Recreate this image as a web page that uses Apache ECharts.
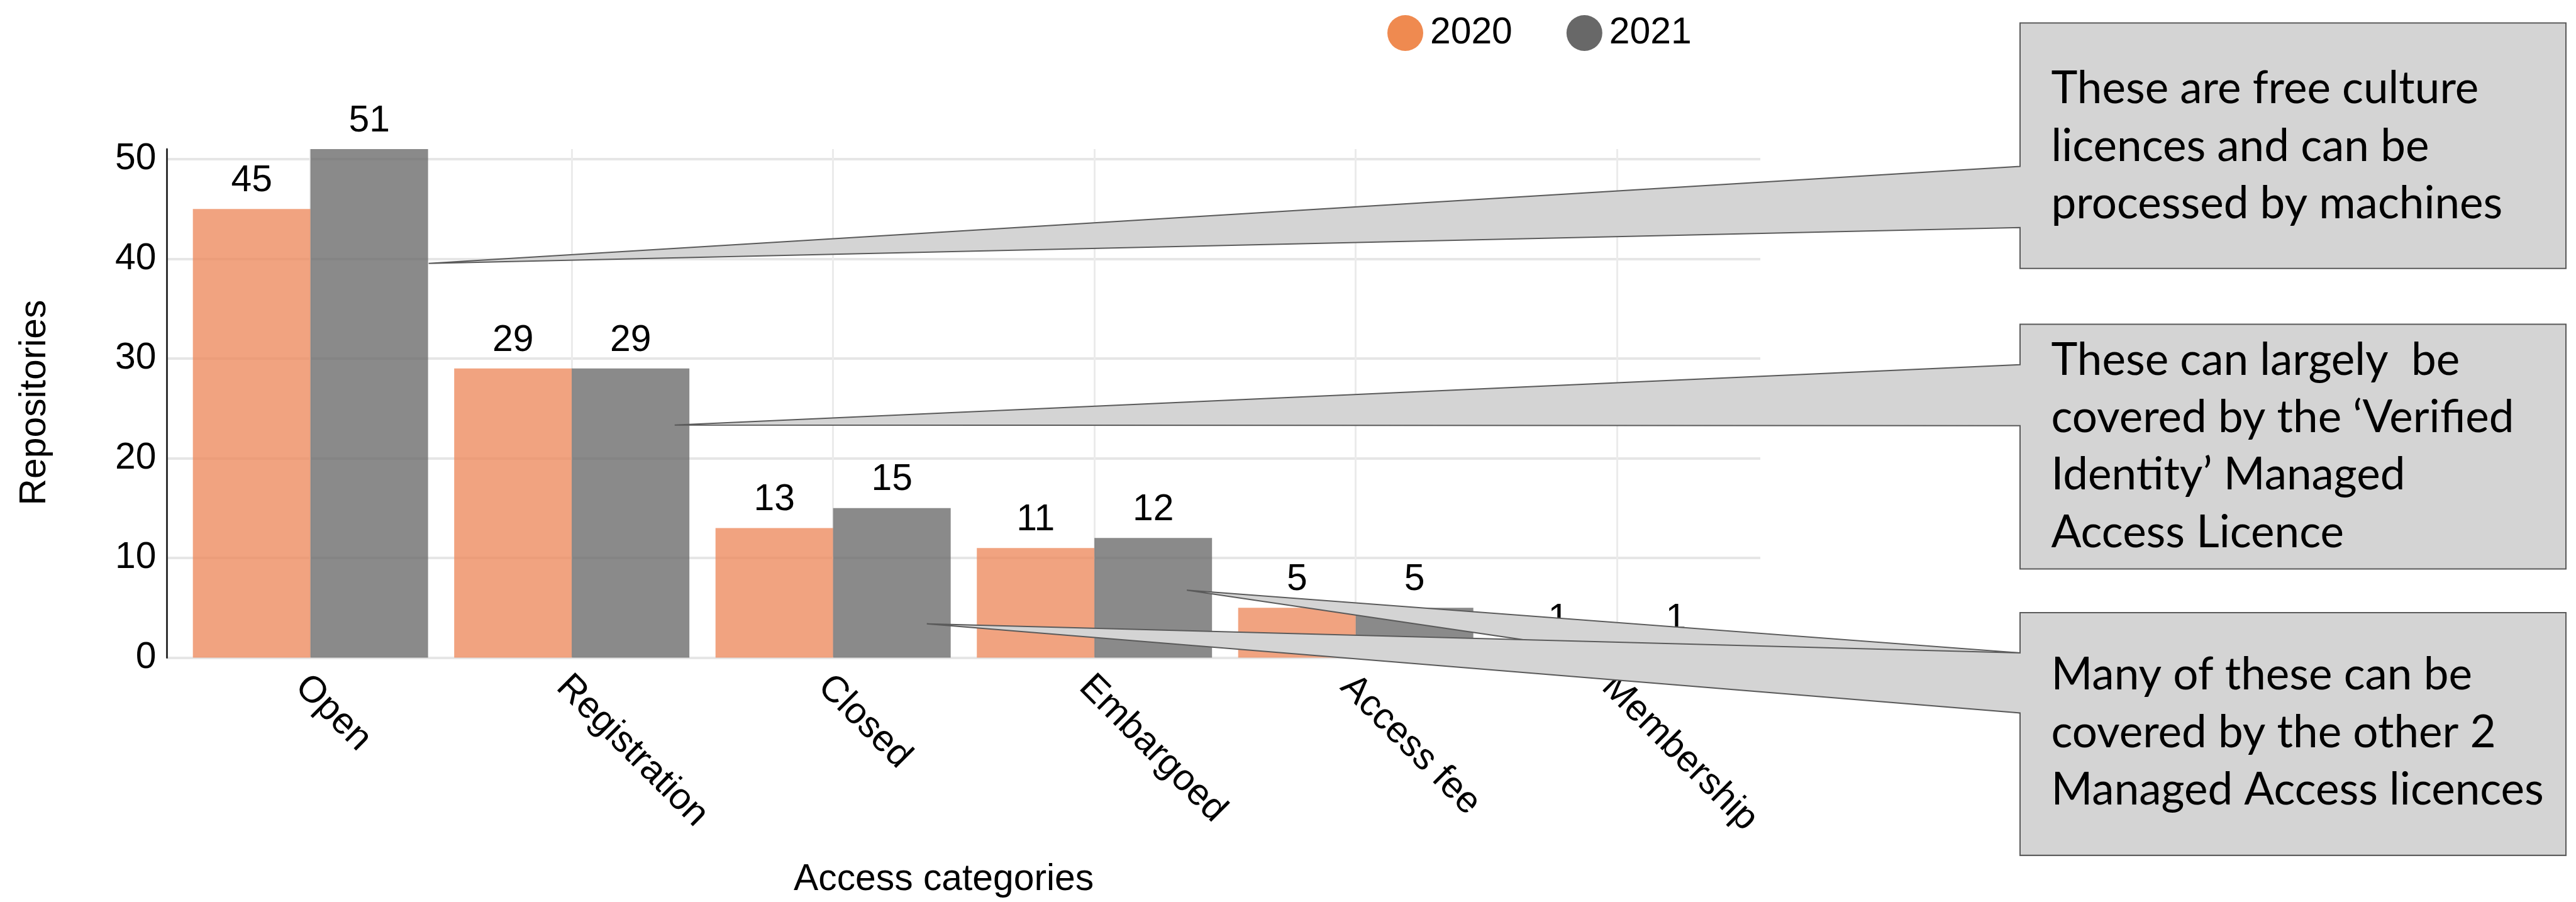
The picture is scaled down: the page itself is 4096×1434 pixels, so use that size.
<!DOCTYPE html>
<html>
<head>
<meta charset="utf-8">
<script src="https://cdn.jsdelivr.net/npm/echarts@6/dist/echarts.min.js"></script>
<style>
html,body{margin:0;padding:0;background:#fff;}
#chart{width:4096px;height:1434px;}
</style>
</head>
<body>
<div id="chart"></div>
<script>
// ---- data ----
const categories = ['Open', 'Registration', 'Closed', 'Embargoed', 'Access fee', 'Membership'];
const values2020 = [45, 29, 13, 11, 5, 1];
const values2021 = [51, 29, 15, 12, 5, 1];
const seriesNames = ['2020', '2021'];
const yMin = 0;
const yMax = 51;
const yInterval = 10;
const xAxisTitle = 'Access categories';
const yAxisTitle = 'Repositories';
const note1 = ['These are free culture', 'licences and can be', 'processed by machines'];
const note2 = ['These can largely  be', 'covered by the \u2018Verified', 'Identity\u2019 Managed', 'Access Licence'];
const note3 = ['Many of these can be', 'covered by the other 2', 'Managed Access licences'];

// ---- styling ----
const FONT = '"Liberation Sans", Arial, Helvetica, sans-serif';
const FS = 58.8;
const NOTE_FONT = 'Lato, "Open Sans", sans-serif';
const GRID_TOP = 237;
const GRID_H = 808.6;

const calloutStyle = { fill: '#d4d4d4', stroke: '#5a5a5a', lineWidth: 2 };
function callout(box, base, tip, z) {
  const [x0, y0, x1, y1] = box;
  return {
    type: 'polygon', z: z, silent: true,
    shape: { points: [[x0, y0], [x1, y0], [x1, y1], [x0, y1], [x0, base[1]], tip, [x0, base[0]]] },
    style: calloutStyle
  };
}
function noteText(lines, x, y) {
  return {
    type: 'text', z: 120, silent: true, x: x, y: y,
    style: {
      text: lines.join('\n'), fontSize: 71, fontFamily: NOTE_FONT, fill: '#000',
      lineHeight: 91.3, align: 'left', textAlign: 'left', verticalAlign: 'top', textVerticalAlign: 'top'
    }
  };
}

const chart = echarts.init(document.getElementById('chart'), null, { renderer: 'canvas' });
const option = {
  animation: false,
  backgroundColor: '#ffffff',
  textStyle: { fontFamily: FONT },
  legend: {
    left: 2201, top: 18, orient: 'horizontal', icon: 'circle',
    itemWidth: 57, itemHeight: 57, itemGap: 86,
    textStyle: { fontSize: FS, color: '#000', fontFamily: FONT, padding: [0, 0, 0, 6] },
    data: [
      { name: seriesNames[0], itemStyle: { color: '#EF8A50', opacity: 1 } },
      { name: seriesNames[1], itemStyle: { color: '#686868', opacity: 1 } }
    ]
  },
  grid: [
    { left: 285.9, width: 2493.1, top: GRID_TOP, height: GRID_H, outerBoundsMode: 'none' },
    { left: 265.5, width: 2533.5, top: GRID_TOP, height: GRID_H, outerBoundsMode: 'none' }
  ],
  xAxis: [
    {
      type: 'category', gridIndex: 0, data: categories, boundaryGap: true,
      axisLine: { show: false },
      axisTick: { show: true, alignWithLabel: true, inside: true, length: GRID_H,
                  lineStyle: { color: '#ebebeb', width: 3 } },
      axisLabel: { interval: 0, rotate: -45, margin: 22, verticalAlign: 'top', lineHeight: 42.7,
                   fontSize: FS, color: '#000', fontFamily: FONT },
      splitLine: { show: false }
    },
    { type: 'value', gridIndex: 1, show: false, min: 0, max: 1 }
  ],
  yAxis: [
    { type: 'value', gridIndex: 0, min: yMin, max: yMax, show: false },
    {
      type: 'value', gridIndex: 1, min: yMin, max: yMax, interval: yInterval,
      axisLine: { show: true, onZero: false, lineStyle: { color: '#333', width: 3 } },
      axisTick: { show: false },
      axisLabel: { margin: 17, fontSize: FS, color: '#000', fontFamily: FONT, showMaxLabel: false },
      splitLine: { show: true, showMaxLine: false, lineStyle: { color: '#e6e6e6', width: 4 } }
    }
  ],
  series: [
    {
      name: seriesNames[0], type: 'bar', xAxisIndex: 0, yAxisIndex: 0, data: values2020,
      barGap: '0%', barCategoryGap: '10%',
      itemStyle: { color: 'rgba(237,135,89,0.765)' },
      label: { show: true, position: 'top', distance: 15, fontSize: FS, color: '#000', fontFamily: FONT }
    },
    {
      name: seriesNames[1], type: 'bar', xAxisIndex: 0, yAxisIndex: 0, data: values2021,
      barGap: '0%', barCategoryGap: '10%',
      itemStyle: { color: 'rgba(102,102,102,0.765)' },
      label: { show: true, position: 'top', distance: 15, fontSize: FS, color: '#000', fontFamily: FONT }
    }
  ],
  graphic: {
    elements: [
      {
        type: 'text', silent: true, x: 1500.6, y: 1399,
        style: { text: xAxisTitle, fontSize: FS, fontFamily: FONT, fill: '#000',
                 align: 'center', textAlign: 'center', verticalAlign: 'middle', textVerticalAlign: 'middle' }
      },
      {
        type: 'text', silent: true, x: 55.3, y: 640, rotation: Math.PI / 2,
        style: { text: yAxisTitle, fontSize: FS, fontFamily: FONT, fill: '#000',
                 align: 'center', textAlign: 'center', verticalAlign: 'middle', textVerticalAlign: 'middle' }
      },
      callout([3212, 36.5, 4080, 426.8], [264.6, 361.7], [681.6, 418.8], 100),
      callout([3212, 515.4, 4080, 904.4], [579.7, 676.8], [1072.8, 675.8], 101),
      callout([3212, 973.9, 4080, 1359.7], [1038, 1133.4], [1887.1, 938.2], 102),
      callout([3212, 973.9, 4080, 1359.7], [1038, 1133.4], [1473.7, 991.7], 103),
      noteText(note1, 3261.5, 95.9),
      noteText(note2, 3261.5, 527.2),
      noteText(note3, 3261.5, 1027.9)
    ]
  }
};
chart.setOption(option);
</script>
</body>
</html>
